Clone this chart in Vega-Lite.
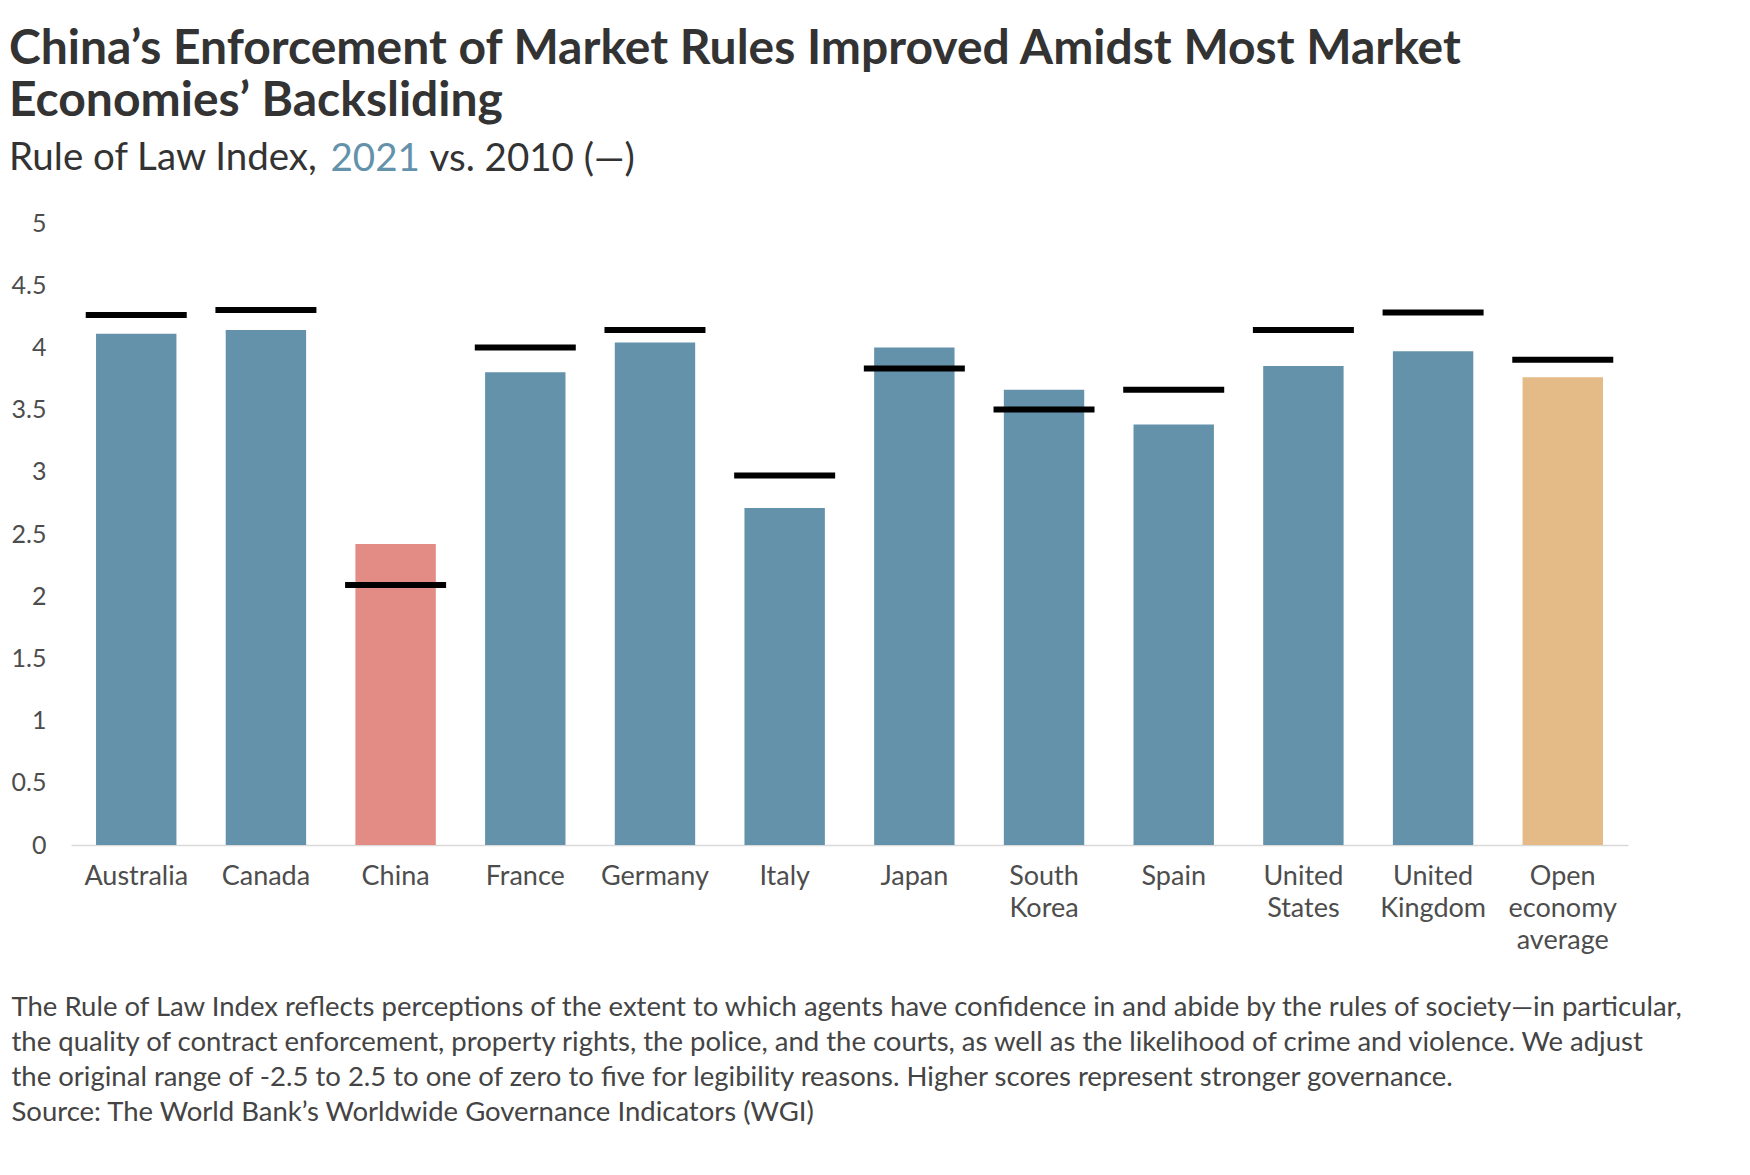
{
  "$schema": "https://vega.github.io/schema/vega-lite/v6.json",
  "width": 1557,
  "height": 622,
  "autosize": {"type": "none"},
  "padding": {"left": 71, "top": 223, "right": 122, "bottom": 330},
  "background": "white",
  "config": {"font": "Lato", "view": {"stroke": null}},
  "title": {
    "text": ["China’s Enforcement of Market Rules Improved Amidst Most Market", "Economies’ Backsliding"],
    "subtitle": "Rule of Law Index,",
    "anchor": "start",
    "frame": "group",
    "dx": -62,
    "offset": -38,
    "font": "Lato",
    "fontSize": 48,
    "fontWeight": "bold",
    "color": "#333333",
    "lineHeight": 52,
    "subtitleFont": "Lato",
    "subtitleFontSize": 38.5,
    "subtitleColor": "#333333",
    "subtitlePadding": 14
  },
  "data": {
    "values": [
      {"country": "Australia", "v2021": 4.11, "v2010": 4.26, "group": "Market economy"},
      {"country": "Canada", "v2021": 4.14, "v2010": 4.30, "group": "Market economy"},
      {"country": "China", "v2021": 2.42, "v2010": 2.09, "group": "China"},
      {"country": "France", "v2021": 3.80, "v2010": 4.00, "group": "Market economy"},
      {"country": "Germany", "v2021": 4.04, "v2010": 4.14, "group": "Market economy"},
      {"country": "Italy", "v2021": 2.71, "v2010": 2.97, "group": "Market economy"},
      {"country": "Japan", "v2021": 4.00, "v2010": 3.83, "group": "Market economy"},
      {"country": "South Korea", "v2021": 3.66, "v2010": 3.50, "group": "Market economy"},
      {"country": "Spain", "v2021": 3.38, "v2010": 3.66, "group": "Market economy"},
      {"country": "United States", "v2021": 3.85, "v2010": 4.14, "group": "Market economy"},
      {"country": "United Kingdom", "v2021": 3.97, "v2010": 4.28, "group": "Market economy"},
      {"country": "Open economy average", "v2021": 3.76, "v2010": 3.90, "group": "Average"}
    ]
  },
  "encoding": {
    "x": {
      "field": "country",
      "type": "nominal",
      "sort": null,
      "scale": {"paddingInner": 0.38, "paddingOuter": 0.193},
      "axis": {
        "labelAngle": 0,
        "labelExpr": "split(datum.label, ' ')",
        "labelFont": "Lato",
        "labelFontSize": 27,
        "labelColor": "#4d4d4d",
        "labelLineHeight": 32,
        "labelPadding": 18,
        "labelBaseline": "top",
        "ticks": false,
        "domainColor": "#d9d9d9",
        "domainWidth": 1.5,
        "title": [
          "The Rule of Law Index reflects perceptions of the extent to which agents have confidence in and abide by the rules of society—in particular,",
          "the quality of contract enforcement, property rights, the police, and the courts, as well as the likelihood of crime and violence. We adjust",
          "the original range of -2.5 to 2.5 to one of zero to five for legibility reasons. Higher scores represent stronger governance.",
          "Source: The World Bank’s Worldwide Governance Indicators (WGI)"
        ],
        "titleX": -60,
        "titleY": 170,
        "titleAlign": "left",
        "titleAnchor": "start",
        "titleBaseline": "alphabetic",
        "titleFont": "Lato",
        "titleFontSize": 27.5,
        "titleFontWeight": "normal",
        "titleColor": "#444444",
        "titleLineHeight": 35
      }
    }
  },
  "layer": [
    {
      "mark": {"type": "bar", "opacity": 1},
      "encoding": {
        "y": {
          "field": "v2021",
          "type": "quantitative",
          "scale": {"domain": [0, 5]},
          "axis": {
            "values": [0, 0.5, 1, 1.5, 2, 2.5, 3, 3.5, 4, 4.5, 5],
            "format": "~g",
            "labelFont": "Lato",
            "labelFontSize": 25,
            "labelColor": "#4d4d4d",
            "labelPadding": 25,
            "ticks": false,
            "domain": false,
            "grid": false,
            "title": "2021",
            "titleColor": "#6492AB",
            "titleFont": "Lato",
            "titleFontSize": 38.5,
            "titleFontWeight": "normal",
            "titleAngle": 0,
            "titleAlign": "left",
            "titleBaseline": "alphabetic",
            "titleX": 259,
            "titleY": -53
          }
        },
        "color": {
          "field": "group",
          "type": "nominal",
          "scale": {"domain": ["Market economy", "China", "Average"], "range": ["#6492AB", "#E38B85", "#E4BA86"]},
          "legend": null
        }
      }
    },
    {
      "mark": {"type": "tick", "color": "#000000", "opacity": 1, "thickness": 6, "size": 101},
      "encoding": {
        "y": {
          "field": "v2010",
          "type": "quantitative",
          "scale": {"domain": [0, 5]},
          "axis": {
            "orient": "right",
            "labels": false,
            "ticks": false,
            "domain": false,
            "grid": false,
            "title": "vs. 2010 (—)",
            "titleColor": "#333333",
            "titleFont": "Lato",
            "titleFontSize": 38.5,
            "titleFontWeight": "normal",
            "titleAngle": 0,
            "titleAlign": "left",
            "titleBaseline": "alphabetic",
            "titleX": -1199,
            "titleY": -53
          }
        }
      }
    }
  ],
  "resolve": {"scale": {"y": "independent"}, "axis": {"y": "independent"}}
}
